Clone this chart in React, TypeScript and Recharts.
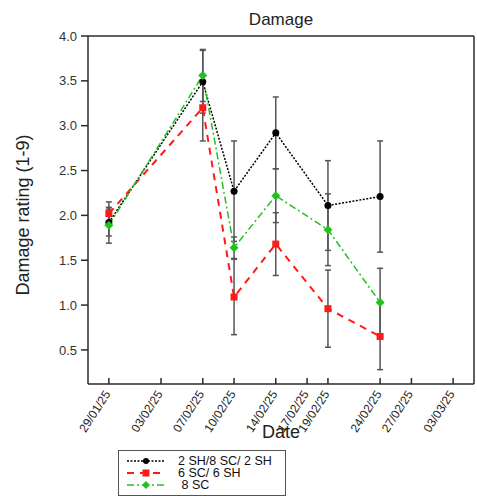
import React from 'react';
import { ComposedChart, Line, XAxis, YAxis, ErrorBar, Label, ReferenceLine } from 'recharts';

// Sampling dates and the mean damage ratings (1-9 scale) with their standard errors
const SAMPLE_DATES = ['29/01/25', '07/02/25', '10/02/25', '14/02/25', '19/02/25', '24/02/25'];
const TICK_DATES = ['29/01/25', '03/02/25', '07/02/25', '10/02/25', '14/02/25', '17/02/25', '19/02/25', '24/02/25', '27/02/25', '03/03/25'];

const SH_SC_SH = [1.92, 3.49, 2.27, 2.92, 2.11, 2.21];
const SH_SC_SH_ERR = [0.15, 0.35, 0.56, 0.4, 0.5, 0.62];
const SC_SH = [2.02, 3.2, 1.09, 1.68, 0.96, 0.65];
const SC_SH_ERR = [0.13, 0.37, 0.42, 0.35, 0.43, 0.37];
const SC8 = [1.89, 3.56, 1.64, 2.22, 1.84, 1.03];
const SC8_ERR = [0.2, 0.29, 0.12, 0.3, 0.4, 0.38];

const SERIES_NAMES = ['2 SH/8 SC/ 2 SH', '6 SC/ 6 SH', ' 8 SC'];
const Y_TICKS = [0.5, 1.0, 1.5, 2.0, 2.5, 3.0, 3.5, 4.0];
const X_DOMAIN: [number, number] = [-2, 35];
const Y_DOMAIN: [number, number] = [0.12, 4.0];

const FONT = '"Liberation Sans", Arial, Helvetica, sans-serif';
const RED = '#ff1a1a';
const GREEN = '#1fc21f';
const ERR = '#555555';
const AXIS = '#2a2a2a';

// days elapsed since the first sampling date
const toDays = (s: string) => {
  const [d, m, y] = s.split('/').map(Number);
  const [d0, m0, y0] = SAMPLE_DATES[0].split('/').map(Number);
  return (Date.UTC(2000 + y, m - 1, d) - Date.UTC(2000 + y0, m0 - 1, d0)) / 86400000;
};

const TICK_DAYS = TICK_DATES.map(toDays);
const labelForDay = (v: number) => TICK_DATES[TICK_DAYS.indexOf(v)] ?? '';

const data = SAMPLE_DATES.map((date, i) => ({
  day: toDays(date),
  a: SH_SC_SH[i],
  aErr: SH_SC_SH_ERR[i],
  b: SC_SH[i],
  bErr: SC_SH_ERR[i],
  c: SC8[i],
  cErr: SC8_ERR[i],
}));

const DateTick = (props: any) => {
  const { x, y, payload } = props;
  return (
    <g>
      <line x1={x} y1={y} x2={x} y2={y - 6} stroke={AXIS} strokeWidth={1.5} />
      <text
        transform={`translate(${x + 2},${y + 10}) rotate(-57)`}
        textAnchor="end"
        fontSize={12}
        fontFamily={FONT}
        fill="#222"
      >
        {labelForDay(payload.value)}
      </text>
    </g>
  );
};

const circleDot = (p: any) => (
  <circle key={`a-${p.index}`} cx={p.cx} cy={p.cy} r={3.5} fill="#000" />
);
const squareDot = (p: any) => (
  <rect key={`b-${p.index}`} x={p.cx - 3.5} y={p.cy - 3.5} width={7} height={7} fill={RED} />
);
const diamondDot = (p: any) => (
  <polygon
    key={`c-${p.index}`}
    points={`${p.cx},${p.cy - 4.5} ${p.cx + 4.5},${p.cy} ${p.cx},${p.cy + 4.5} ${p.cx - 4.5},${p.cy}`}
    fill={GREEN}
  />
);

const LegendBox = () => {
  const rows = [
    { name: SERIES_NAMES[0], color: '#000', dash: '2 1.5', width: 1.5, marker: 'circle' },
    { name: SERIES_NAMES[1], color: RED, dash: '7 6', width: 2, marker: 'square' },
    { name: SERIES_NAMES[2], color: GREEN, dash: '7 3 2 3', width: 1.5, marker: 'diamond' },
  ];
  const ys = [11, 23, 35];
  return (
    <svg width={168} height={46} style={{ position: 'absolute', left: 118, top: 450 }}>
      <rect x={0.5} y={0.5} width={167} height={45} fill="#fff" stroke="#555" strokeWidth={1} />
      {rows.map((r, i) => {
        const y = ys[i];
        const cx = 28;
        return (
          <g key={r.name}>
            <line x1={9} y1={y} x2={47} y2={y} stroke={r.color} strokeWidth={r.width} strokeDasharray={r.dash} />
            {r.marker === 'circle' && <circle cx={cx} cy={y} r={3} fill="#000" />}
            {r.marker === 'square' && <rect x={cx - 3.5} y={y - 3.5} width={7} height={7} fill={RED} />}
            {r.marker === 'diamond' && (
              <polygon points={`${cx},${y - 4} ${cx + 4},${y} ${cx},${y + 4} ${cx - 4},${y}`} fill={GREEN} />
            )}
            <text x={60} y={y + 4.3} fontSize={12.5} fontFamily={FONT} fill="#111" style={{ whiteSpace: 'pre' }}>
              {r.name}
            </text>
          </g>
        );
      })}
    </svg>
  );
};

export default function App() {
  return (
    <div style={{ position: 'absolute', left: 0, top: 0, width: 477, height: 496, background: '#fff' }}>
      <ComposedChart
        width={477}
        height={496}
        data={data}
        margin={{ top: 36, right: 3, left: 0, bottom: 0 }}
      >
        <XAxis
          dataKey="day"
          type="number"
          domain={X_DOMAIN}
          ticks={TICK_DAYS}
          interval={0}
          height={112}
          tickSize={0}
          tickMargin={0}
          tickLine={false}
          axisLine={{ stroke: AXIS, strokeWidth: 1.5 }}
          tick={<DateTick />}
        >
          <Label
            content={(p: any) => {
              const vb = p.viewBox;
              return (
                <g>
                  <text x={vb.x + vb.width / 2} y={vb.y + 54} textAnchor="middle" fontSize={18} fontFamily={FONT} fill="#222">
                    Date
                  </text>
                  <text x={vb.x + vb.width / 2} y={36 - 11} textAnchor="middle" fontSize={17} fontFamily={FONT} fill="#222">
                    Damage
                  </text>
                </g>
              );
            }}
          />
        </XAxis>
        <YAxis
          type="number"
          domain={Y_DOMAIN}
          ticks={Y_TICKS}
          interval={0}
          width={88}
          tickSize={7}
          tickMargin={4}
          tickFormatter={(v: number) => v.toFixed(1)}
          tick={{ fontSize: 13, fontFamily: FONT, fill: '#333' }}
          tickLine={{ stroke: AXIS, strokeWidth: 1.5 }}
          axisLine={{ stroke: AXIS, strokeWidth: 1.5 }}
        >
          <Label
            content={(p: any) => {
              const vb = p.viewBox;
              const cx = 29;
              const cy = vb.y + vb.height / 2 + 5;
              return (
                <text
                  transform={`translate(${cx},${cy}) rotate(-90)`}
                  textAnchor="middle"
                  fontSize={18}
                  fontFamily={FONT}
                  fill="#222"
                >
                  Damage rating (1-9)
                </text>
              );
            }}
          />
        </YAxis>
        {/* frame: top and right edges of the plot box */}
        <ReferenceLine y={Y_DOMAIN[1]} stroke={AXIS} strokeWidth={1.5} ifOverflow="extendDomain" />
        <ReferenceLine x={X_DOMAIN[1]} stroke={AXIS} strokeWidth={1.5} ifOverflow="extendDomain" />
        <Line
          dataKey="a"
          name={SERIES_NAMES[0]}
          stroke="#000"
          strokeWidth={1.5}
          strokeDasharray="2 1.5"
          dot={circleDot}
          activeDot={false}
          isAnimationActive={false}
        >
          <ErrorBar dataKey="aErr" direction="y" width={3} stroke={ERR} strokeWidth={1.5} isAnimationActive={false} />
        </Line>
        <Line
          dataKey="b"
          name={SERIES_NAMES[1]}
          stroke={RED}
          strokeWidth={2}
          strokeDasharray="7 6"
          dot={squareDot}
          activeDot={false}
          isAnimationActive={false}
        >
          <ErrorBar dataKey="bErr" direction="y" width={3} stroke={ERR} strokeWidth={1.5} isAnimationActive={false} />
        </Line>
        <Line
          dataKey="c"
          name={SERIES_NAMES[2]}
          stroke={GREEN}
          strokeWidth={1.5}
          strokeDasharray="7 3 2 3"
          dot={diamondDot}
          activeDot={false}
          isAnimationActive={false}
        >
          <ErrorBar dataKey="cErr" direction="y" width={3} stroke={ERR} strokeWidth={1.5} isAnimationActive={false} />
        </Line>
      </ComposedChart>
      <LegendBox />
    </div>
  );
}
